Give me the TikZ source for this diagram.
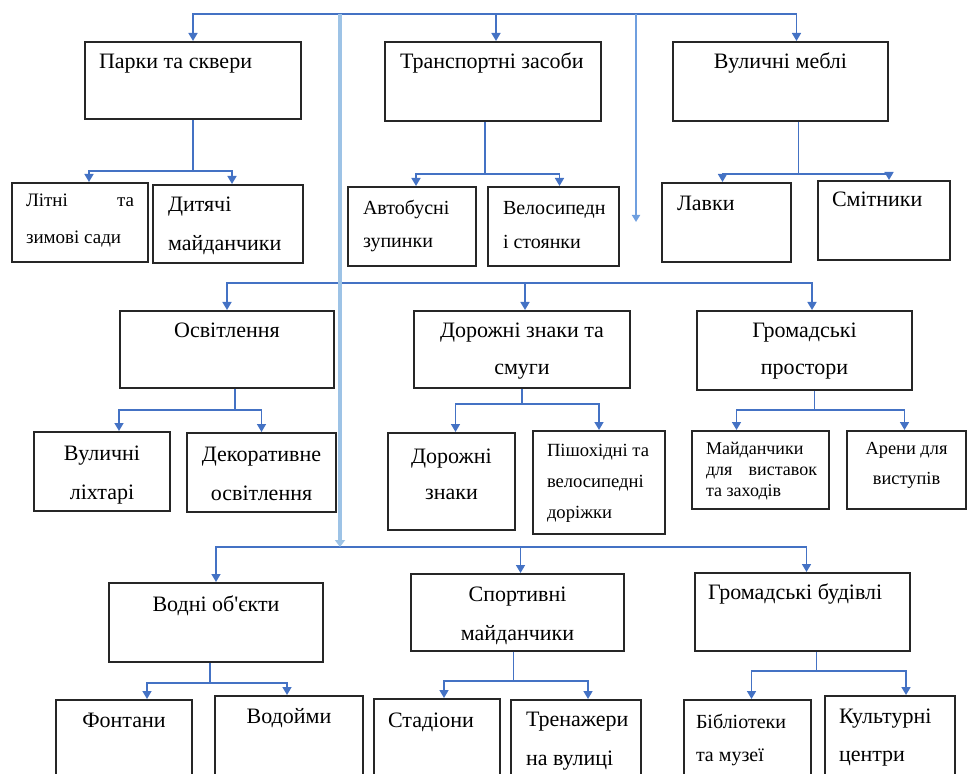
\documentclass[tikz,border=0pt]{standalone}
\usepackage{fontspec}
\setmainfont{Liberation Serif}
\usetikzlibrary{arrows.meta}
\definecolor{linkblue}{HTML}{4472C4}
\definecolor{trunkblue}{HTML}{9DC3E6}
\definecolor{spurblue}{HTML}{6F9FDF}
\newcommand{\boxtext}[4]{\parbox[c][#2][t]{#1}{\rule{0pt}{#3}#4\par}}
\tikzset{
  box/.style={draw=black!85, line width=1pt, inner sep=0pt, anchor=north west,
    font=\fontsize{11}{19.5}\selectfont},
  stem/.style={draw=linkblue, line width=0.8pt},
  link/.style={stem, -{Triangle[width=4.5pt,length=4pt]}},
  trunk/.style={draw=trunkblue, line width=2pt, -{Triangle[width=5pt,length=3.5pt]}},
  spur/.style={draw=spurblue, line width=1pt, -{Triangle[width=4pt,length=3.5pt]}}
}
\begin{document}
\begin{tikzpicture}[x=0.5pt, y=-0.5pt]
\useasboundingbox (0,0) rectangle (967,774);
\clip (0,0) rectangle (967,774);
% Row 1
\node[box] (parks) at (84,41) {\boxtext{108pt}{38.5pt}{13.5pt}{\raggedright\leftskip=7pt Парки та сквери}};
\node[box] (transport) at (384,41) {\boxtext{108pt}{39.5pt}{13.5pt}{\raggedright\leftskip=7.5pt Транспортні засоби}};
\node[box] (furniture) at (672,41) {\boxtext{107.5pt}{39.5pt}{13.5pt}{\centering Вуличні меблі}};
\node[box] (gardens) at (11,182) {\boxtext{68pt}{39.5pt}{12pt}{\fontsize{9.5}{18.5}\selectfont\leftskip=7pt\rightskip=7pt Літні \hfill та\\зимові сади}};
\node[box] (playground) at (152,184) {\boxtext{75pt}{39pt}{13.5pt}{\raggedright\leftskip=7.5pt Дитячі\\майданчики}};
\node[box] (busstops) at (347,186) {\boxtext{64pt}{39.5pt}{14pt}{\fontsize{10}{16.5}\selectfont\raggedright\leftskip=7.5pt Автобусні\\зупинки}};
\node[box] (bikeparks) at (487,186) {\boxtext{65.5pt}{39.5pt}{14pt}{\fontsize{10}{17}\selectfont\raggedright\leftskip=7.5pt Велосипедн\\і стоянки}};
\node[box] (benches) at (661,182) {\boxtext{64.5pt}{39.5pt}{14pt}{\raggedright\leftskip=7.5pt Лавки}};
\node[box] (bins) at (817,180) {\boxtext{66pt}{39.5pt}{13pt}{\raggedright\leftskip=7pt Смітники}};
% Row 2
\node[box] (lighting) at (119,310) {\boxtext{107pt}{38.5pt}{13.5pt}{\centering Освітлення}};
\node[box] (roadsigns) at (413,310) {\boxtext{108pt}{38.5pt}{13.5pt}{\fontsize{11}{18.5}\selectfont\centering Дорожні знаки та\\смуги}};
\node[box] (public) at (696,310) {\boxtext{107.5pt}{39.5pt}{13.5pt}{\fontsize{11}{18}\selectfont\centering Громадські\\простори}};
\node[box] (streetlamps) at (33,431) {\boxtext{68pt}{39.5pt}{14pt}{\centering Вуличні\\ліхтарі}};
\node[box] (decorative) at (186,432) {\boxtext{74.5pt}{39.5pt}{14pt}{\centering Декоративне\\освітлення}};
\node[box] (signs) at (387,432) {\boxtext{63.5pt}{48.5pt}{15pt}{\fontsize{11}{18}\selectfont\centering Дорожні\\знаки}};
\node[box] (lanes) at (532,430) {\boxtext{66pt}{51.5pt}{12.5pt}{\fontsize{9.3}{15.5}\selectfont\leftskip=7pt\rightskip=8pt Пішохідні \hfill та\\велосипедні\\доріжки}};
\node[box] (venues) at (691,430) {\boxtext{68.5pt}{39pt}{11.5pt}{\fontsize{9}{10.5}\selectfont\leftskip=7pt\rightskip=6pt Майданчики\\для \hfill виставок\\та заходів}};
\node[box] (arenas) at (846,430) {\boxtext{59.5pt}{39pt}{11.5pt}{\fontsize{9.2}{15}\selectfont\centering Арени для\\виступів}};
% Row 3
\node[box] (water) at (108,582) {\boxtext{107pt}{39.5pt}{14pt}{\centering Водні об\textquotesingle єкти}};
\node[box] (sports) at (410,573) {\boxtext{106.5pt}{38.5pt}{13.5pt}{\centering Спортивні\\майданчики}};
\node[box] (buildings) at (694,572) {\boxtext{107.5pt}{39pt}{13pt}{\raggedright\leftskip=6.5pt Громадські будівлі}};
\node[box] (fountains) at (55,699) {\boxtext{68pt}{50pt}{13.5pt}{\centering Фонтани}};
\node[box] (ponds) at (214,695) {\boxtext{74pt}{50pt}{13.5pt}{\centering Водойми}};
\node[box] (stadiums) at (373,698) {\boxtext{63pt}{50pt}{14pt}{\raggedright\leftskip=7pt Стадіони}};
\node[box] (trainers) at (510,699) {\boxtext{65pt}{50pt}{13pt}{\raggedright\leftskip=7.5pt Тренажери\\на вулиці}};
\node[box] (libraries) at (683,699) {\boxtext{63.5pt}{50pt}{14pt}{\fontsize{10}{16.5}\selectfont\raggedright\leftskip=6pt Бібліотеки\\та музеї}};
\node[box] (cultural) at (824,695) {\boxtext{65pt}{50pt}{13.5pt}{\fontsize{11}{19}\selectfont\raggedright\leftskip=7pt Культурні\\центри}};
% Buses
\coordinate (root) at (340,14);
\coordinate (stray) at (636,222);
\coordinate (midbus) at (340,283);
\coordinate (lowbus) at (340,547);
\draw[link] (root) -| (parks.north);
\draw[link] (root) -| ([xshift=1.5pt]transport.north);
\draw[link] (root) -| ([xshift=8pt]furniture.north);
\draw[link] (midbus) -| (lighting.north);
\draw[link] (midbus) -| ([xshift=1.5pt]roadsigns.north);
\draw[link] (midbus) -| ([xshift=3.75pt]public.north);
\draw[link] (lowbus) -| (water.north);
\draw[link] (lowbus) -| ([xshift=1.5pt]sports.north);
\draw[link] (lowbus) -| ([xshift=2pt]buildings.north);
\draw[spur] (root -| stray) -- (stray);
\draw[trunk] (root) -- (lowbus);
% Groups
\draw[stem] (parks.south) -- ++(0,51) coordinate (parks-j);
\draw[link] (parks-j) -| ([xshift=4.5pt]gardens.north);
\draw[link] (parks-j) -| ([xshift=2pt]playground.north);
\draw[stem] ([xshift=-4pt]transport.south) -- ++(0,52) coordinate (transport-j);
\draw[link] (transport-j) -| ([xshift=2pt]busstops.north);
\draw[link] (transport-j) -| ([xshift=3pt]bikeparks.north);
\draw[stem] ([xshift=9pt]furniture.south) -- ++(0,52) coordinate (furniture-j);
\draw[link] (furniture-j) -| ([xshift=-2pt]benches.north);
\draw[link] (furniture-j) -| ([xshift=2.5pt]bins.north);
\draw[stem] ([xshift=4pt]lighting.south) -- ++(0,21) coordinate (lighting-j);
\draw[link] (lighting-j) -| ([xshift=8.5pt]streetlamps.north);
\draw[link] (lighting-j) -| (decorative.north);
\draw[stem] (roadsigns.south) -- ++(0,15) coordinate (roadsigns-j);
\draw[link] (roadsigns-j) -| ([xshift=2pt]signs.north);
\draw[link] (roadsigns-j) -| (lanes.north);
\draw[stem] ([xshift=5pt]public.south) -- ++(0,19) coordinate (public-j);
\draw[link] (public-j) -| ([xshift=-12pt]venues.north);
\draw[link] (public-j) -| ([xshift=-1pt]arenas.north);
\draw[stem] ([xshift=-3pt]water.south) -- ++(0,20) coordinate (water-j);
\draw[link] (water-j) -| ([xshift=11.5pt]fountains.north);
\draw[link] (water-j) -| ([xshift=-1pt]ponds.north);
\draw[stem] ([xshift=-2pt]sports.south) -- ++(0,29) coordinate (sports-j);
\draw[link] (sports-j) -| ([xshift=3.5pt]stadiums.north);
\draw[link] (sports-j) -| ([xshift=6pt]trainers.north);
\draw[stem] ([xshift=7pt]buildings.south) -- ++(0,19) coordinate (buildings-j);
\draw[link] (buildings-j) -| ([xshift=2pt]libraries.north);
\draw[link] (buildings-j) -| ([xshift=8pt]cultural.north);
\end{tikzpicture}
\end{document}
